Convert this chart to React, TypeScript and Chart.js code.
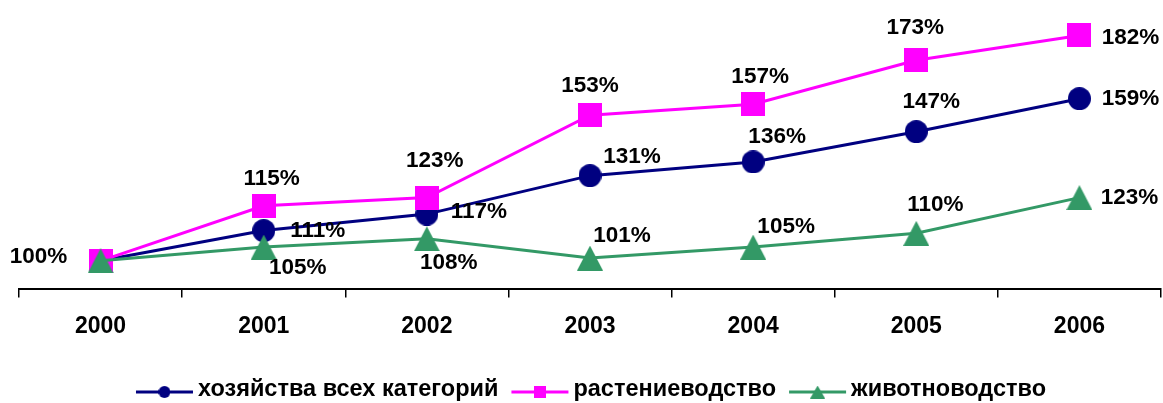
import React, { useEffect, useRef } from "react";
import { Chart, registerables } from "chart.js";

Chart.register(...registerables);

// ---- data ----
const years = ["2000", "2001", "2002", "2003", "2004", "2005", "2006"];
const seriesNames = ["хозяйства всех категорий", "растениеводство", "животноводство"];

const allFarms = [100, 111, 117, 131, 136, 147, 159];
const allFarmsLabels = ["100%", "111%", "117%", "131%", "136%", "147%", "159%"];

const cropFarming = [100, 120, 123, 153, 157, 173, 182];
const cropFarmingLabels = ["", "115%", "123%", "153%", "157%", "173%", "182%"];

const livestock = [100, 105, 108, 101, 105, 110, 123];
const livestockLabels = ["", "105%", "108%", "101%", "105%", "110%", "123%"];

// ---- label placement (pixel offsets from the point) ----
const allFarmsOffsets = [[-62, -4], [54, 0], [52, -2], [42, -19], [24, -25], [15, -30], [51, 0]];
const cropOffsets = [[0, 0], [8, -27], [8, -37], [0, -29], [7, -27], [-1, -32], [51, 2]];
const livestockOffsets = [[0, 0], [34, 21], [22, 24], [32, -22], [33, -20], [19, -29], [50, 0]];

const NAVY = "#000080";
const MAGENTA = "#FF00FF";
const GREEN = "#339966";
const FONT = "Arial, 'Liberation Sans', sans-serif";

function makeMarker(kind: string, w: number, h: number, color: string): HTMLCanvasElement {
  const c = document.createElement("canvas");
  c.width = w;
  c.height = h;
  const ctx = c.getContext("2d")!;
  ctx.fillStyle = color;
  ctx.beginPath();
  if (kind === "triangle") {
    ctx.moveTo(w / 2, 0);
    ctx.lineTo(w, h);
    ctx.lineTo(0, h);
    ctx.closePath();
  } else if (kind === "square") {
    ctx.rect(0, 0, w, h);
  } else {
    ctx.arc(w / 2, h / 2, Math.min(w, h) / 2, 0, Math.PI * 2);
  }
  ctx.fill();
  return c;
}

export default function App() {
  const ref = useRef<HTMLCanvasElement | null>(null);

  useEffect(() => {
    if (!ref.current) return;

    const circle = makeMarker("circle", 23, 23, NAVY);
    const square = makeMarker("square", 24, 24, MAGENTA);
    const tri = makeMarker("triangle", 26, 25, GREEN);

    const smallMarkers = [
      makeMarker("circle", 12, 12, NAVY),
      makeMarker("square", 12, 12, MAGENTA),
      makeMarker("triangle", 15, 13, GREEN),
    ];
    const colors = [NAVY, MAGENTA, GREEN];

    const labelSets = [allFarmsLabels, cropFarmingLabels, livestockLabels];
    const offsetSets = [allFarmsOffsets, cropOffsets, livestockOffsets];

    const dataLabelPlugin = {
      id: "pctLabels",
      afterDatasetsDraw(chart: any) {
        const ctx = chart.ctx;
        ctx.save();
        ctx.font = `bold 22.5px ${FONT}`;
        ctx.fillStyle = "#000";
        ctx.textAlign = "center";
        ctx.textBaseline = "middle";
        for (let d = 0; d < 3; d++) {
          const meta = chart.getDatasetMeta(d);
          meta.data.forEach((pt: any, j: number) => {
            const txt = labelSets[d][j];
            if (!txt) return;
            const [dx, dy] = offsetSets[d][j];
            ctx.fillText(txt, pt.x + dx, pt.y + dy);
          });
        }
        ctx.restore();
      },
    };

    const legendPlugin = {
      id: "lineLegend",
      afterDraw(chart: any) {
        const ctx = chart.ctx;
        ctx.save();
        ctx.font = `bold 23.5px ${FONT}`;
        ctx.textBaseline = "middle";
        ctx.textAlign = "left";
        const lineLen = 57;
        const gapText = 5;
        const gapItem = 13;
        const widths = seriesNames.map((t) => ctx.measureText(t).width);
        const total = widths.reduce((a, b) => a + b, 0) + 3 * (lineLen + gapText) + 2 * gapItem;
        const ca = chart.chartArea;
        let x = (ca.left + ca.right) / 2 + 1 - total / 2;
        const y = chart.height - 13;
        seriesNames.forEach((name, i) => {
          ctx.strokeStyle = colors[i];
          ctx.lineWidth = 3;
          ctx.beginPath();
          ctx.moveTo(x, y + 2);
          ctx.lineTo(x + lineLen, y + 2);
          ctx.stroke();
          const m = smallMarkers[i];
          ctx.drawImage(m, x + lineLen / 2 - m.width / 2, y + 2 - m.height / 2);
          ctx.fillStyle = "#000";
          ctx.fillText(name, x + lineLen + gapText, y);
          x += lineLen + gapText + widths[i] + gapItem;
        });
        ctx.restore();
      },
    };

    const chart = new Chart(ref.current, {
      type: "line",
      data: {
        labels: years,
        datasets: [
          {
            label: seriesNames[0],
            data: allFarms,
            borderColor: NAVY,
            backgroundColor: NAVY,
            borderWidth: 3,
            pointStyle: circle as any,
            pointRadius: 12,
            tension: 0,
            order: 2,
            clip: false as any,
          },
          {
            label: seriesNames[1],
            data: cropFarming,
            borderColor: MAGENTA,
            backgroundColor: MAGENTA,
            borderWidth: 3,
            pointStyle: square as any,
            pointRadius: 12,
            tension: 0,
            order: 1,
            clip: false as any,
          },
          {
            label: seriesNames[2],
            data: livestock,
            borderColor: GREEN,
            backgroundColor: GREEN,
            borderWidth: 3,
            pointStyle: tri as any,
            pointRadius: 12,
            tension: 0,
            order: 0,
            clip: false as any,
          },
        ],
      },
      options: {
        responsive: false,
        animation: false,
        events: [],
        layout: { autoPadding: false, padding: { left: 19, right: 2, top: 8, bottom: 48 } },
        plugins: {
          legend: { display: false },
          tooltip: { enabled: false },
        },
        scales: {
          x: {
            offset: true,
            afterFit: (scale: any) => {
              scale.paddingLeft = 0;
              scale.paddingRight = 0;
            },
            grid: {
              offset: true,
              drawOnChartArea: false,
              drawTicks: true,
              tickLength: 8,
              color: "#000",
              lineWidth: 1.5,
            },
            border: { display: true, color: "#000", width: 2 },
            ticks: {
              color: "#000",
              font: { family: FONT, size: 23, weight: "bold" },
              padding: 15,
              maxRotation: 0,
              autoSkip: false,
            },
          },
          y: {
            display: false,
            min: 89.6,
            max: 192,
          },
        },
      },
      plugins: [dataLabelPlugin, legendPlugin],
    });

    return () => chart.destroy();
  }, []);

  return (
    <div style={{ position: "fixed", left: 0, top: 0, width: 1163, height: 403, background: "#fff" }}>
      <canvas ref={ref} width={1163} height={403} style={{ width: 1163, height: 403, display: "block" }} />
    </div>
  );
}
